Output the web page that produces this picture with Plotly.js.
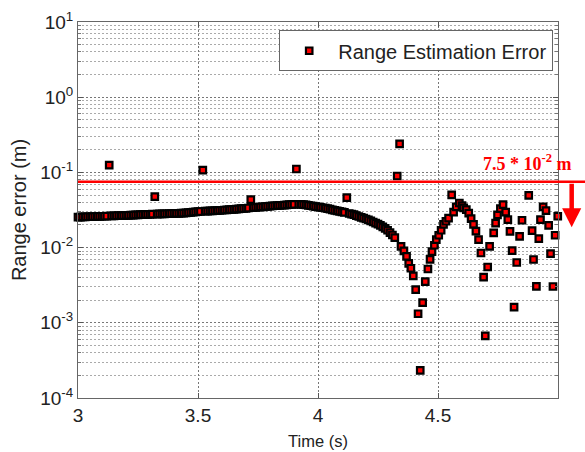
<!DOCTYPE html>
<html>
<head>
<meta charset="utf-8">
<script src="https://cdn.plot.ly/plotly-3.0.1.min.js"></script>
<style>html,body{margin:0;padding:0;background:#fff;}#chart{width:585px;height:452px;}</style>
</head>
<body>
<div id="chart"></div>
<script>
// ---- data ----
const TIME = [
3.00,3.01,3.02,3.03,3.04,3.05,3.06,3.07,3.08,3.09,3.10,3.11,3.12,3.13,3.14,3.15,3.16,3.17,3.18,3.19,
3.20,3.21,3.22,3.23,3.24,3.25,3.26,3.27,3.28,3.29,3.30,3.31,3.32,3.33,3.34,3.35,3.36,3.37,3.38,3.39,
3.40,3.41,3.42,3.43,3.44,3.45,3.46,3.47,3.48,3.49,3.50,3.51,3.52,3.53,3.54,3.55,3.56,3.57,3.58,3.59,
3.60,3.61,3.62,3.63,3.64,3.65,3.66,3.67,3.68,3.69,3.70,3.71,3.72,3.73,3.74,3.75,3.76,3.77,3.78,3.79,
3.80,3.81,3.82,3.83,3.84,3.85,3.86,3.87,3.88,3.89,3.90,3.91,3.92,3.93,3.94,3.95,3.96,3.97,3.98,3.99,
4.00,4.01,4.02,4.03,4.04,4.05,4.06,4.07,4.08,4.09,4.10,4.11,4.12,4.13,4.14,4.15,4.16,4.17,4.18,4.19,
4.20,4.21,4.22,4.23,4.24,4.25,4.26,4.27,4.28,4.29,4.30,4.31,
4.32,4.33,4.34,4.346,4.358,4.369,4.378,4.387,4.397,4.407,4.417,4.426,
4.436,4.447,4.458,4.467,4.475,4.485,4.493,4.503,4.513,4.523,4.533,4.544,4.557,
4.565,4.576,4.589,4.600,4.607,4.618,4.628,4.638,4.648,4.658,4.669,4.679,4.690,4.697,
4.707,4.715,4.732,4.740,4.748,4.760,4.771,4.782,4.791,4.800,4.809,4.817,
4.828,4.840,4.850,4.878,4.892,4.898,4.910,4.920,4.927,4.938,4.950,4.961,4.969,4.979,4.988,4.999
];
const RANGE_ERROR = [
0.0255,0.0255,0.0256,0.0256,0.0257,0.0257,0.0258,0.0259,0.0259,0.0260,0.0261,0.0261,0.0262,0.125,0.0264,0.0264,0.0265,0.0266,0.0267,0.0267,
0.0268,0.0269,0.0270,0.0271,0.0272,0.0273,0.0274,0.0275,0.0276,0.0276,0.0277,0.0278,0.0476,0.0279,0.0280,0.0281,0.0281,0.0282,0.0283,0.0284,
0.0285,0.0286,0.0286,0.0287,0.0288,0.0290,0.0292,0.0294,0.0296,0.0298,0.0300,0.0302,0.107,0.0305,0.0306,0.0307,0.0308,0.0310,0.0311,0.0312,
0.0314,0.0316,0.0318,0.0319,0.0321,0.0323,0.0325,0.0327,0.0329,0.0331,0.0333,0.0336,0.0435,0.0340,0.0342,0.0344,0.0347,0.0349,0.0352,0.0354,
0.0356,0.0358,0.0360,0.0362,0.0364,0.0366,0.0368,0.0370,0.0372,0.0374,0.0376,0.111,0.0377,0.0376,0.0373,0.0369,0.0364,0.0360,0.0355,0.0351,
0.0347,0.0343,0.0339,0.0334,0.0329,0.0324,0.0318,0.0313,0.0308,0.0303,0.0299,0.0294,0.0462,0.0284,0.0279,0.0274,0.0266,0.0259,0.0253,0.0246,
0.0240,0.0233,0.0226,0.0219,0.0212,0.0205,0.0198,0.0189,0.0180,0.0170,0.0158,0.0147,
0.0136,0.0895,0.239,0.0104,0.00906,0.00766,0.00618,0.00531,0.00422,0.00276,0.00132,0.000233,
0.00185,0.00353,0.00519,0.00698,0.00885,0.01074,0.01277,0.01459,0.0170,0.0204,0.0224,0.0246,0.0502,
0.0297,0.0347,0.0392,0.0362,0.0337,0.0320,0.0288,0.0243,0.0204,0.0166,0.0128,0.00847,0.00406,0.000671,
0.00552,0.0104,0.01574,0.0212,0.0272,0.0330,0.0373,0.0297,0.0236,0.0164,0.00912,0.00162,
0.00634,0.01412,0.0231,0.0495,0.0168,0.00695,0.00305,0.01318,0.0236,0.0347,0.0310,0.0197,0.00832,0.00304,0.0146,0.0261
];
const SERIES_NAME = "Range Estimation Error";
const THRESHOLD = 0.075;
const THRESHOLD_LABEL = "<b>7.5 * 10<sup>-2</sup> m</b>";
const X_TICKS = [3, 3.5, 4, 4.5];
const X_TICK_LABELS = ["3", "3.5", "4", "4.5"];
const Y_TICKS = [1e-4, 1e-3, 1e-2, 1e-1, 1e0, 1e1];
const Y_TICK_LABELS = ["10<sup>-4</sup>", "10<sup>-3</sup>", "10<sup>-2</sup>", "10<sup>-1</sup>", "10<sup>0</sup>", "10<sup>1</sup>"];

// minor log grid positions (2..9 per decade)
const minorVals = [];
for (let k = -4; k <= 0; k++) for (let m = 2; m <= 9; m++) minorVals.push(m * Math.pow(10, k));

const FONT = "Liberation Sans, Arial, sans-serif";

const trace = {
  x: TIME, y: RANGE_ERROR, name: SERIES_NAME,
  type: "scatter", mode: "markers", cliponaxis: false,
  marker: { symbol: "square", size: 6.5, color: "#ff0000", line: { color: "#000", width: 2.2 } }
};

const layout = {
  width: 585, height: 452,
  margin: { l: 78, r: 27, t: 22, b: 54 },
  paper_bgcolor: "#fff", plot_bgcolor: "#fff",
  showlegend: true,
  font: { family: FONT, color: "#222" },
  xaxis: {
    range: [3, 5], tickmode: "array", tickvals: X_TICKS, ticktext: X_TICK_LABELS,
    showgrid: true, gridcolor: "#777", griddash: "2px,2px", gridwidth: 1,
    ticks: "inside", ticklen: 5, tickcolor: "#555",
    showline: true, mirror: "ticks", linecolor: "#666", linewidth: 1, zeroline: false,
    tickfont: { family: FONT, size: 19, color: "#222" },
    title: { text: "Time (s)", font: { family: FONT, size: 16.5, color: "#222" }, standoff: 10 }
  },
  yaxis: {
    type: "log", range: [-4, 1], tickmode: "array", tickvals: Y_TICKS, ticktext: Y_TICK_LABELS,
    showgrid: true, gridcolor: "#777", griddash: "2px,2px", gridwidth: 1,
    ticks: "inside", ticklen: 5, tickcolor: "#555",
    showline: true, mirror: "ticks", linecolor: "#666", linewidth: 1, zeroline: false,
    tickfont: { family: FONT, size: 19, color: "#222" },
    minor: { tickmode: "array", tickvals: minorVals, showgrid: true, gridcolor: "#aaa", griddash: "2px,2px", ticks: "inside", ticklen: 3, tickcolor: "#777" },
    title: { text: "Range error (m)", font: { family: FONT, size: 20, color: "#222" }, standoff: 8 }
  },
  legend: {
    x: 0.99, xanchor: "right", y: 0.978, yanchor: "top",
    bgcolor: "#fff", bordercolor: "#666", borderwidth: 1, itemwidth: 48,
    font: { family: FONT, size: 20, color: "#222" }
  },
  shapes: [{
    type: "line", xref: "paper", x0: 0, x1: 1.06, yref: "y", y0: THRESHOLD, y1: THRESHOLD,
    line: { color: "#ff0000", width: 2.5 }, layer: "above"
  }],
  annotations: [
    {
      xref: "paper", yref: "paper", x: 0.84, y: 0.627, xanchor: "left", yanchor: "middle",
      text: THRESHOLD_LABEL, showarrow: false,
      font: { family: "Liberation Serif, Times New Roman, serif", size: 18, color: "#ff0000" }
    },
    {
      xref: "paper", yref: "paper", x: 1.0285, y: 0.454, ax: 0, ay: -45,
      text: "", showarrow: true, arrowhead: 2, arrowsize: 0.85, arrowwidth: 4.5, arrowcolor: "#ff0000"
    }
  ]
};

Plotly.newPlot("chart", [trace], layout, { displayModeBar: false, staticPlot: true });
</script>
</body>
</html>
